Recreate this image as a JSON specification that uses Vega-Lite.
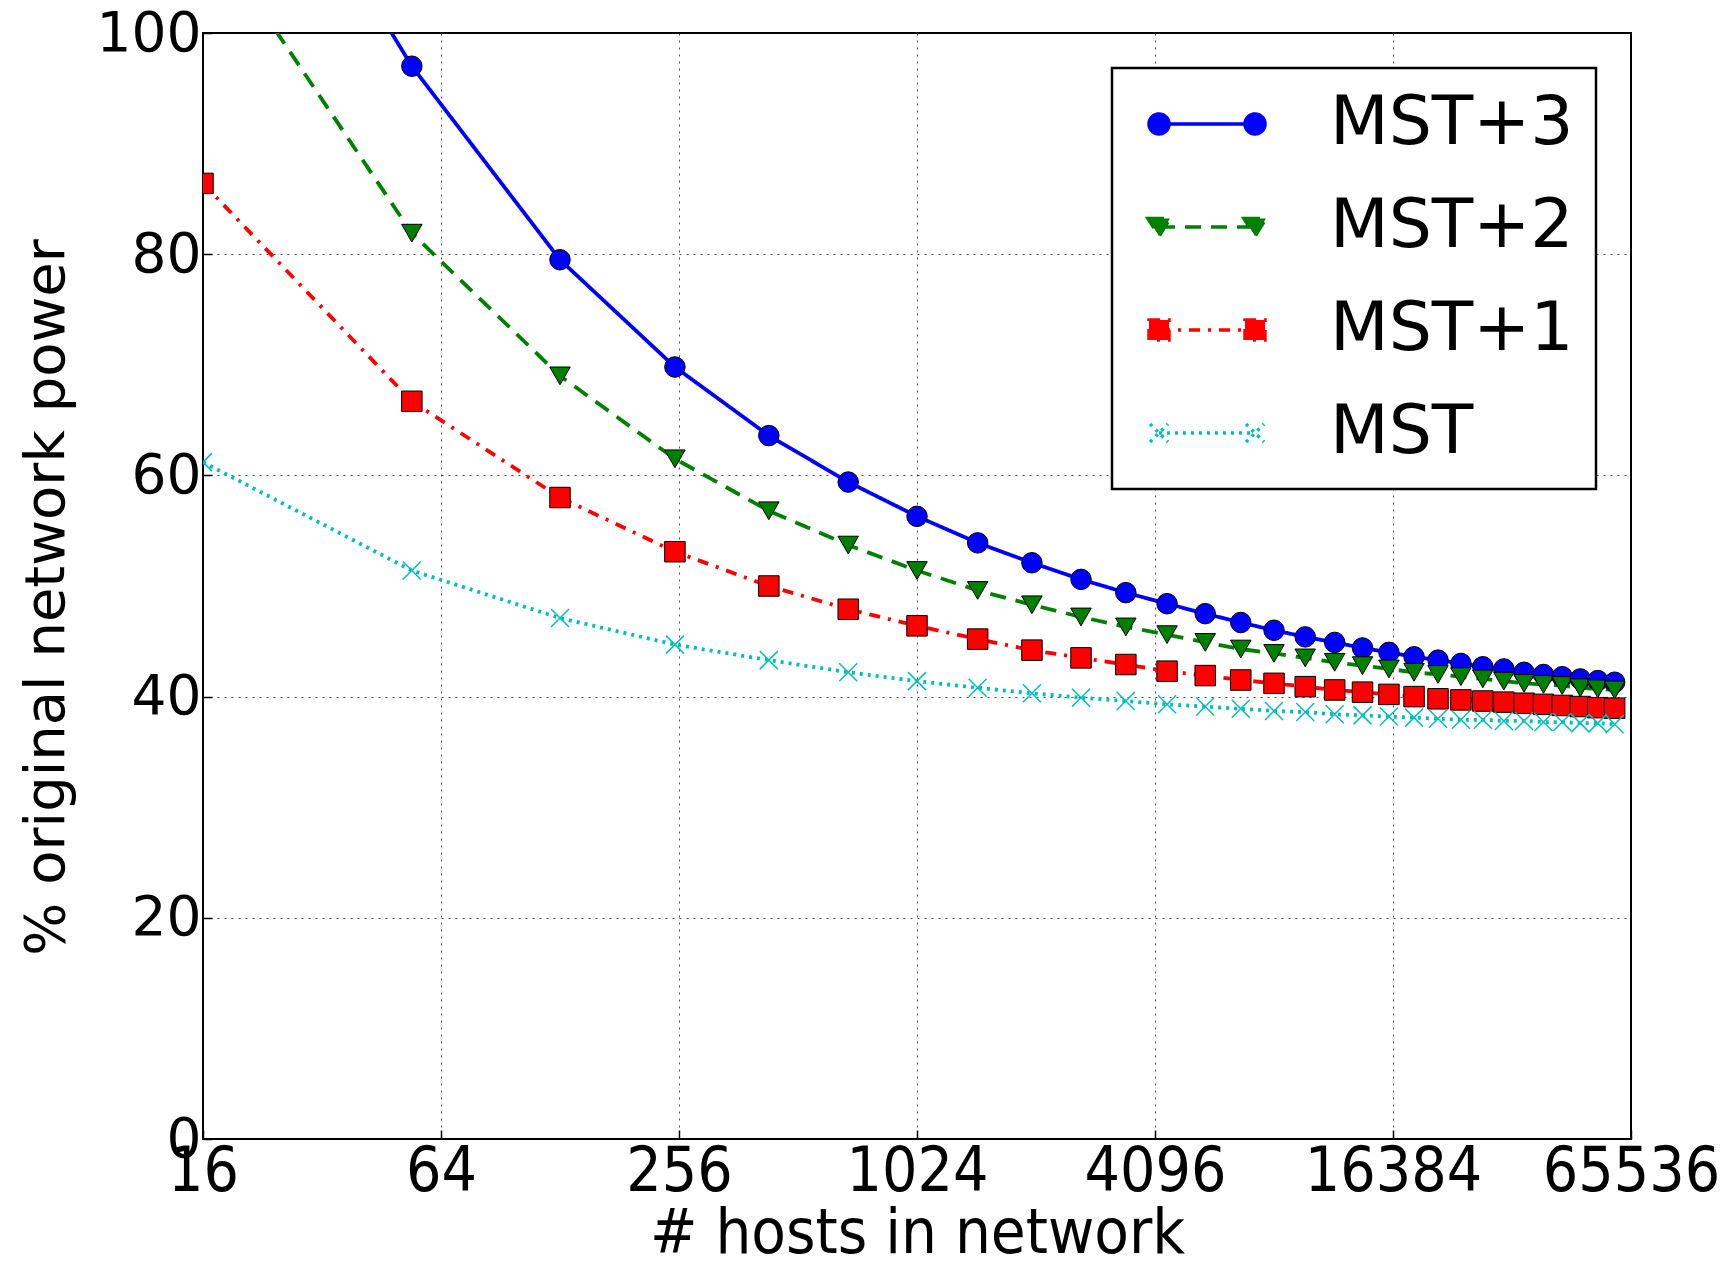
{
  "$schema": "https://vega.github.io/schema/vega-lite/v6.json",
  "width": 1428,
  "height": 1106,
  "autosize": {"type": "none"},
  "padding": {"left": 203, "top": 33, "right": 105, "bottom": 123},
  "background": "white",
  "config": {"view": {"stroke": "#000", "strokeWidth": 2}, "font": "DejaVu Sans"},
  "data": {"values": [
    {"hosts": 16, "series": "MST+3", "power": 128}, {"hosts": 16, "series": "MST+2", "power": 110}, {"hosts": 16, "series": "MST+1", "power": 86.4}, {"hosts": 16, "series": "MST", "power": 61.2},
    {"hosts": 54, "series": "MST+3", "power": 97.0}, {"hosts": 54, "series": "MST+2", "power": 81.9}, {"hosts": 54, "series": "MST+1", "power": 66.7}, {"hosts": 54, "series": "MST", "power": 51.4},
    {"hosts": 128, "series": "MST+3", "power": 79.5}, {"hosts": 128, "series": "MST+2", "power": 69.0}, {"hosts": 128, "series": "MST+1", "power": 58.0}, {"hosts": 128, "series": "MST", "power": 47.1},
    {"hosts": 250, "series": "MST+3", "power": 69.8}, {"hosts": 250, "series": "MST+2", "power": 61.5}, {"hosts": 250, "series": "MST+1", "power": 53.1}, {"hosts": 250, "series": "MST", "power": 44.7},
    {"hosts": 432, "series": "MST+3", "power": 63.6}, {"hosts": 432, "series": "MST+2", "power": 56.8}, {"hosts": 432, "series": "MST+1", "power": 50.0}, {"hosts": 432, "series": "MST", "power": 43.3},
    {"hosts": 686, "series": "MST+3", "power": 59.4}, {"hosts": 686, "series": "MST+2", "power": 53.7}, {"hosts": 686, "series": "MST+1", "power": 47.9}, {"hosts": 686, "series": "MST", "power": 42.2},
    {"hosts": 1024, "series": "MST+3", "power": 56.3}, {"hosts": 1024, "series": "MST+2", "power": 51.4}, {"hosts": 1024, "series": "MST+1", "power": 46.4}, {"hosts": 1024, "series": "MST", "power": 41.4},
    {"hosts": 1458, "series": "MST+3", "power": 53.9}, {"hosts": 1458, "series": "MST+2", "power": 49.6}, {"hosts": 1458, "series": "MST+1", "power": 45.2}, {"hosts": 1458, "series": "MST", "power": 40.8},
    {"hosts": 2000, "series": "MST+3", "power": 52.1}, {"hosts": 2000, "series": "MST+2", "power": 48.3}, {"hosts": 2000, "series": "MST+1", "power": 44.2}, {"hosts": 2000, "series": "MST", "power": 40.3},
    {"hosts": 2662, "series": "MST+3", "power": 50.6}, {"hosts": 2662, "series": "MST+2", "power": 47.2}, {"hosts": 2662, "series": "MST+1", "power": 43.5}, {"hosts": 2662, "series": "MST", "power": 39.9},
    {"hosts": 3456, "series": "MST+3", "power": 49.4}, {"hosts": 3456, "series": "MST+2", "power": 46.3}, {"hosts": 3456, "series": "MST+1", "power": 42.9}, {"hosts": 3456, "series": "MST", "power": 39.6},
    {"hosts": 4394, "series": "MST+3", "power": 48.4}, {"hosts": 4394, "series": "MST+2", "power": 45.6}, {"hosts": 4394, "series": "MST+1", "power": 42.3}, {"hosts": 4394, "series": "MST", "power": 39.3},
    {"hosts": 5488, "series": "MST+3", "power": 47.5}, {"hosts": 5488, "series": "MST+2", "power": 44.9}, {"hosts": 5488, "series": "MST+1", "power": 41.9}, {"hosts": 5488, "series": "MST", "power": 39.1},
    {"hosts": 6750, "series": "MST+3", "power": 46.7}, {"hosts": 6750, "series": "MST+2", "power": 44.3}, {"hosts": 6750, "series": "MST+1", "power": 41.5}, {"hosts": 6750, "series": "MST", "power": 38.9},
    {"hosts": 8192, "series": "MST+3", "power": 46.0}, {"hosts": 8192, "series": "MST+2", "power": 43.9}, {"hosts": 8192, "series": "MST+1", "power": 41.2}, {"hosts": 8192, "series": "MST", "power": 38.7},
    {"hosts": 9826, "series": "MST+3", "power": 45.4}, {"hosts": 9826, "series": "MST+2", "power": 43.5}, {"hosts": 9826, "series": "MST+1", "power": 40.9}, {"hosts": 9826, "series": "MST", "power": 38.6},
    {"hosts": 11664, "series": "MST+3", "power": 44.9}, {"hosts": 11664, "series": "MST+2", "power": 43.1}, {"hosts": 11664, "series": "MST+1", "power": 40.6}, {"hosts": 11664, "series": "MST", "power": 38.4},
    {"hosts": 13718, "series": "MST+3", "power": 44.4}, {"hosts": 13718, "series": "MST+2", "power": 42.8}, {"hosts": 13718, "series": "MST+1", "power": 40.4}, {"hosts": 13718, "series": "MST", "power": 38.3},
    {"hosts": 16000, "series": "MST+3", "power": 44.0}, {"hosts": 16000, "series": "MST+2", "power": 42.5}, {"hosts": 16000, "series": "MST+1", "power": 40.2}, {"hosts": 16000, "series": "MST", "power": 38.2},
    {"hosts": 18522, "series": "MST+3", "power": 43.6}, {"hosts": 18522, "series": "MST+2", "power": 42.2}, {"hosts": 18522, "series": "MST+1", "power": 40.0}, {"hosts": 18522, "series": "MST", "power": 38.1},
    {"hosts": 21296, "series": "MST+3", "power": 43.3}, {"hosts": 21296, "series": "MST+2", "power": 42.0}, {"hosts": 21296, "series": "MST+1", "power": 39.8}, {"hosts": 21296, "series": "MST", "power": 38.0},
    {"hosts": 24334, "series": "MST+3", "power": 43.0}, {"hosts": 24334, "series": "MST+2", "power": 41.8}, {"hosts": 24334, "series": "MST+1", "power": 39.7}, {"hosts": 24334, "series": "MST", "power": 37.9},
    {"hosts": 27648, "series": "MST+3", "power": 42.7}, {"hosts": 27648, "series": "MST+2", "power": 41.6}, {"hosts": 27648, "series": "MST+1", "power": 39.6}, {"hosts": 27648, "series": "MST", "power": 37.9},
    {"hosts": 31250, "series": "MST+3", "power": 42.5}, {"hosts": 31250, "series": "MST+2", "power": 41.4}, {"hosts": 31250, "series": "MST+1", "power": 39.5}, {"hosts": 31250, "series": "MST", "power": 37.8},
    {"hosts": 35152, "series": "MST+3", "power": 42.2}, {"hosts": 35152, "series": "MST+2", "power": 41.2}, {"hosts": 35152, "series": "MST+1", "power": 39.4}, {"hosts": 35152, "series": "MST", "power": 37.8},
    {"hosts": 39366, "series": "MST+3", "power": 42.0}, {"hosts": 39366, "series": "MST+2", "power": 41.1}, {"hosts": 39366, "series": "MST+1", "power": 39.3}, {"hosts": 39366, "series": "MST", "power": 37.7},
    {"hosts": 43904, "series": "MST+3", "power": 41.8}, {"hosts": 43904, "series": "MST+2", "power": 41.0}, {"hosts": 43904, "series": "MST+1", "power": 39.2}, {"hosts": 43904, "series": "MST", "power": 37.7},
    {"hosts": 48778, "series": "MST+3", "power": 41.6}, {"hosts": 48778, "series": "MST+2", "power": 40.8}, {"hosts": 48778, "series": "MST+1", "power": 39.1}, {"hosts": 48778, "series": "MST", "power": 37.6},
    {"hosts": 54000, "series": "MST+3", "power": 41.45}, {"hosts": 54000, "series": "MST+2", "power": 40.7}, {"hosts": 54000, "series": "MST+1", "power": 39.0}, {"hosts": 54000, "series": "MST", "power": 37.6},
    {"hosts": 59582, "series": "MST+3", "power": 41.3}, {"hosts": 59582, "series": "MST+2", "power": 40.6}, {"hosts": 59582, "series": "MST+1", "power": 38.95}, {"hosts": 59582, "series": "MST", "power": 37.5}
  ]},
  "encoding": {
    "x": {
      "field": "hosts", "type": "quantitative",
      "scale": {"type": "log", "base": 2, "domain": [16, 65536], "nice": false},
      "axis": {
        "values": [16, 64, 256, 1024, 4096, 16384, 65536], "format": "d",
        "title": "# hosts in network", "titleFont": "DejaVu Sans Condensed, Liberation Sans Narrow, DejaVu Sans", "titleFontSize": 63, "titleFontWeight": "normal", "titleColor": "#000", "titlePadding": 0,
        "labelFont": "DejaVu Sans Condensed, Liberation Sans Narrow, DejaVu Sans", "labelFontSize": 62, "labelColor": "#000", "labelPadding": 11, "labelFlush": false, "labelOverlap": false,
        "domain": false, "tickSize": -9, "tickColor": "#000", "tickWidth": 1.5,
        "grid": true, "gridColor": "#000", "gridDash": [2, 5], "gridWidth": 1, "gridOpacity": 0.7
      }
    },
    "y": {
      "field": "power", "type": "quantitative",
      "scale": {"domain": [0, 100], "nice": false, "zero": true},
      "axis": {
        "values": [0, 20, 40, 60, 80, 100],
        "title": "% original network power", "titleFont": "DejaVu Sans", "titleFontSize": 56, "titleFontWeight": "normal", "titleColor": "#000", "titlePadding": 21, "titleY": 564,
        "labelFont": "DejaVu Sans", "labelFontSize": 55, "labelColor": "#000", "labelPadding": 11, "labelFlush": false, "labelOverlap": false,
        "domain": false, "tickSize": -9, "tickColor": "#000", "tickWidth": 1.5,
        "grid": true, "gridColor": "#000", "gridDash": [2, 5], "gridWidth": 1, "gridOpacity": 0.7
      }
    },
    "color": {
      "field": "series", "type": "nominal",
      "scale": {"domain": ["MST+3", "MST+2", "MST+1", "MST"], "range": ["#0000ff", "#008000", "#ff0000", "#00bfbf"]},
      "legend": {
        "title": null, "orient": "top-right", "offset": 35,
        "labelFont": "DejaVu Sans", "labelFontSize": 68, "labelColor": "#000", "labelLimit": 500,
        "symbolSize": 3600, "symbolOffset": 39, "labelOffset": 89, "rowPadding": 35, "padding": 22,
        "strokeColor": "#000", "fillColor": "#fff", "cornerRadius": 0,
        "encode": {
          "legend": {"update": {"strokeWidth": {"value": 2.5}}},
          "symbols": {"update": {
            "shape": {"signal": "datum.value === 'MST+3' ? 'M-1.6,0L1.6,0M-1.933,0A0.333,0.333,0,1,0,-1.267,0A0.333,0.333,0,1,0,-1.933,0ZM1.267,0A0.333,0.333,0,1,0,1.933,0A0.333,0.333,0,1,0,1.267,0Z' : datum.value === 'MST+2' ? 'M-1.6,0L1.6,0M-1.967,-0.28L-1.233,-0.28L-1.6,0.3ZM1.233,-0.28L1.967,-0.28L1.6,0.3Z' : datum.value === 'MST+1' ? 'M-1.6,0L1.6,0M-1.933,-0.333L-1.267,-0.333L-1.267,0.333L-1.933,0.333ZM1.267,-0.333L1.933,-0.333L1.933,0.333L1.267,0.333Z' : 'M-1.6,0L1.6,0M-1.9,-0.3L-1.3,0.3M-1.9,0.3L-1.3,-0.3M1.3,-0.3L1.9,0.3M1.3,0.3L1.9,-0.3'"},
            "size": {"value": 3600},
            "fill": {"signal": "datum.value === 'MST' ? 'transparent' : scale('color', datum.value)"},
            "stroke": {"signal": "scale('color', datum.value)"},
            "strokeDash": {"signal": "datum.value === 'MST+2' ? [14, 10] : datum.value === 'MST+1' ? [11, 8, 3, 8] : datum.value === 'MST' ? [3, 5] : [1, 0]"},
            "strokeWidth": {"value": 3.5},
            "opacity": {"value": 1}
          }}
        }
      }
    }
  },
  "layer": [
    {
      "mark": {"type": "line", "clip": true, "strokeWidth": 3.8},
      "encoding": {
        "strokeDash": {
          "field": "series", "type": "nominal",
          "scale": {"domain": ["MST+3", "MST+2", "MST+1", "MST"], "range": [[1, 0], [16, 10], [11, 8, 3, 8], [3, 5]]},
          "legend": null
        }
      }
    },
    {
      "transform": [{"filter": "datum.series !== 'MST'"}],
      "mark": {"type": "point", "filled": true, "stroke": "#000", "strokeWidth": 1, "opacity": 1, "size": 420, "clip": true},
      "encoding": {
        "shape": {
          "field": "series", "type": "nominal",
          "scale": {"domain": ["MST+3", "MST+2", "MST+1"], "range": ["circle", "triangle-down", "square"]},
          "legend": null
        }
      }
    },
    {
      "transform": [{"filter": "datum.series === 'MST'"}],
      "mark": {"type": "point", "shape": "M-1,-1L1,1M-1,1L1,-1", "filled": false, "strokeWidth": 1.5, "size": 324, "opacity": 1, "clip": true}
    }
  ]
}
